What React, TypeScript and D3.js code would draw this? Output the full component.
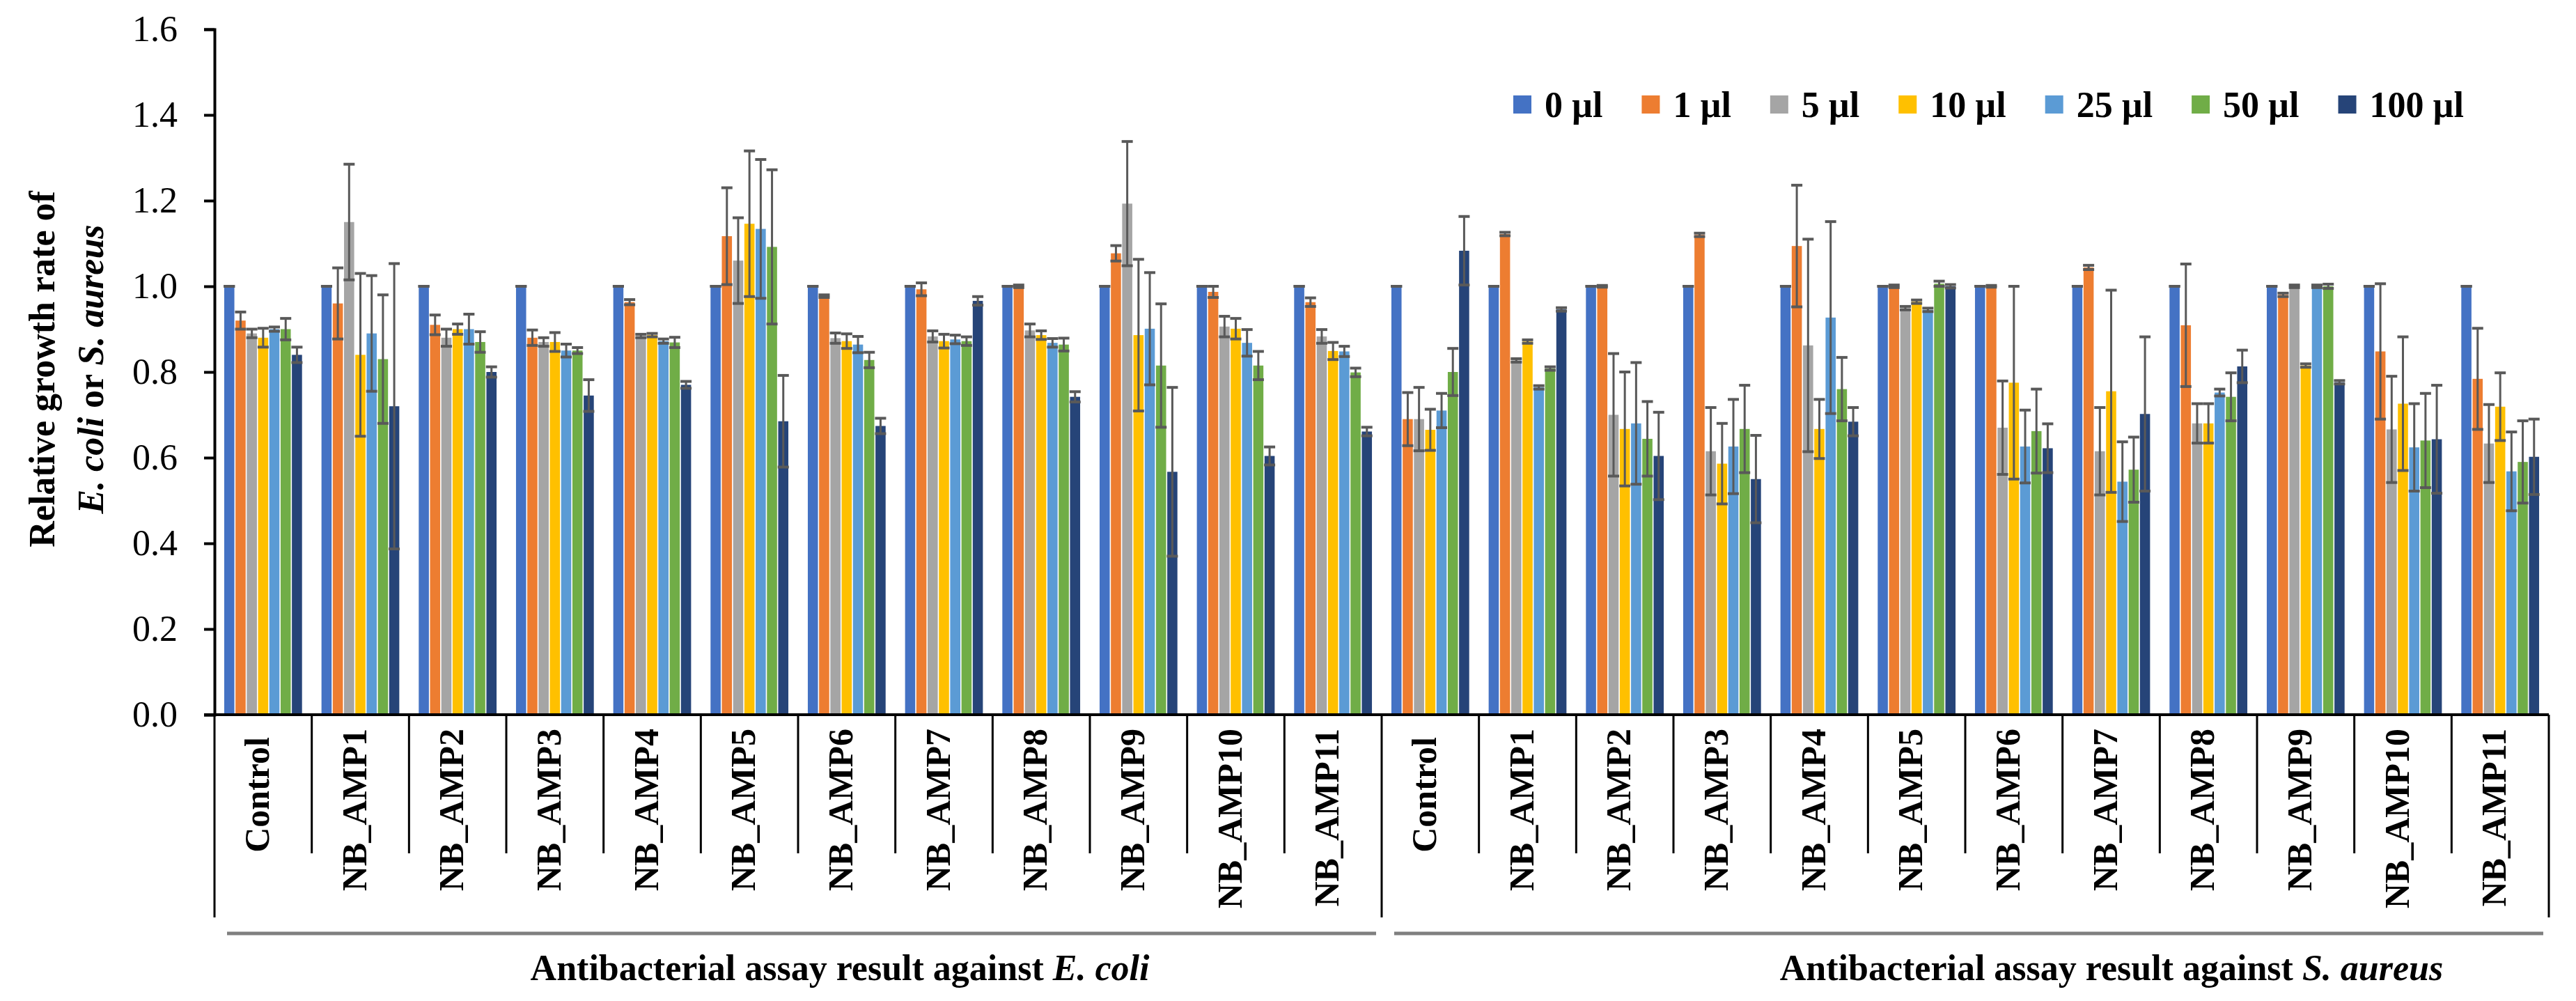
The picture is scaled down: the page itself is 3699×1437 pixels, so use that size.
import { useEffect, useRef } from "react"
import * as d3 from "d3"

const doses = ["0 µl", "1 µl", "5 µl", "10 µl", "25 µl", "50 µl", "100 µl"]
const doseColors = ["#4472C4", "#ED7D31", "#A5A5A5", "#FFC000", "#5B9BD5", "#70AD47", "#264478"]

const categories = [
  "Control", "NB_AMP1", "NB_AMP2", "NB_AMP3", "NB_AMP4", "NB_AMP5",
  "NB_AMP6", "NB_AMP7", "NB_AMP8", "NB_AMP9", "NB_AMP10", "NB_AMP11",
]
const organisms = ["E. coli", "S. aureus"]

// rows = categories, columns = doses
const ecoliMeans = [
  [1.0, 0.92, 0.89, 0.88, 0.9, 0.9, 0.84],
  [1.0, 0.96, 1.15, 0.84, 0.89, 0.83, 0.72],
  [1.0, 0.91, 0.88, 0.9, 0.9, 0.87, 0.8],
  [1.0, 0.88, 0.87, 0.87, 0.85, 0.85, 0.745],
  [1.0, 0.963, 0.884, 0.886, 0.872, 0.869, 0.77],
  [1.0, 1.117, 1.06, 1.146, 1.134, 1.092, 0.685],
  [1.0, 0.977, 0.879, 0.872, 0.864, 0.828, 0.674],
  [1.0, 0.993, 0.883, 0.872, 0.876, 0.872, 0.966],
  [1.0, 1.0, 0.897, 0.886, 0.868, 0.864, 0.742],
  [1.0, 1.077, 1.193, 0.886, 0.901, 0.815, 0.567],
  [1.0, 0.987, 0.906, 0.901, 0.868, 0.815, 0.604],
  [1.0, 0.963, 0.883, 0.849, 0.848, 0.799, 0.661],
]
const ecoliErr = [
  [0, 0.02, 0.01, 0.022, 0.005, 0.025, 0.018],
  [0, 0.083, 0.135, 0.19, 0.135, 0.15, 0.333],
  [0, 0.023, 0.02, 0.012, 0.035, 0.024, 0.012],
  [0, 0.018, 0.01, 0.022, 0.015, 0.007, 0.037],
  [0, 0.006, 0.004, 0.004, 0.005, 0.012, 0.008],
  [0, 0.113, 0.1, 0.17, 0.162, 0.18, 0.107],
  [0, 0.003, 0.012, 0.017, 0.019, 0.018, 0.018],
  [0, 0.015, 0.013, 0.016, 0.01, 0.01, 0.01],
  [0, 0.003, 0.015, 0.01, 0.01, 0.015, 0.012],
  [0, 0.018, 0.145, 0.177, 0.131, 0.144, 0.197],
  [0, 0.013, 0.024, 0.024, 0.031, 0.033, 0.021],
  [0, 0.01, 0.016, 0.02, 0.012, 0.01, 0.01],
]
const aureusMeans = [
  [1.0, 0.69, 0.69, 0.665, 0.71, 0.8, 1.083],
  [1.0, 1.122, 0.827, 0.871, 0.764, 0.808, 0.946],
  [1.0, 1.0, 0.7, 0.667, 0.68, 0.644, 0.604],
  [1.0, 1.12, 0.615, 0.586, 0.626, 0.667, 0.55],
  [1.0, 1.094, 0.862, 0.667, 0.927, 0.76, 0.684],
  [1.0, 1.0, 0.949, 0.964, 0.945, 1.006, 1.0],
  [1.0, 1.0, 0.67, 0.775, 0.626, 0.662, 0.622],
  [1.0, 1.044, 0.615, 0.755, 0.544, 0.572, 0.702],
  [1.0, 0.909, 0.68, 0.68, 0.752, 0.742, 0.813],
  [1.0, 0.98, 1.0, 0.815, 1.0, 1.0, 0.776],
  [1.0, 0.848, 0.666, 0.726, 0.624, 0.64, 0.643],
  [1.0, 0.784, 0.633, 0.719, 0.568, 0.59, 0.602],
]
const aureusErr = [
  [0, 0.062, 0.074, 0.048, 0.04, 0.055, 0.08],
  [0, 0.004, 0.004, 0.004, 0.004, 0.004, 0.004],
  [0, 0.002, 0.143, 0.133, 0.142, 0.087, 0.102],
  [0, 0.004, 0.102, 0.094, 0.11, 0.102, 0.102],
  [0, 0.142, 0.248, 0.069, 0.224, 0.074, 0.033],
  [0, 0.003, 0.004, 0.004, 0.004, 0.006, 0.004],
  [0, 0.002, 0.109, 0.225, 0.085, 0.098, 0.057],
  [0, 0.005, 0.102, 0.236, 0.093, 0.076, 0.18],
  [0, 0.143, 0.046, 0.046, 0.008, 0.056, 0.038],
  [0, 0.004, 0.003, 0.004, 0.003, 0.005, 0.004],
  [0, 0.158, 0.124, 0.156, 0.102, 0.11, 0.126],
  [0, 0.118, 0.091, 0.079, 0.092, 0.096, 0.088],
]

const yTicks = [0, 0.2, 0.4, 0.6, 0.8, 1.0, 1.2, 1.4, 1.6]

const FONT = "'Times New Roman', 'Liberation Serif', serif"

export default function App() {
  const svgRef = useRef<SVGSVGElement>(null)

  useEffect(() => {
    if (!svgRef.current) return
    const width = 3699
    const height = 1437
    const left = 308
    const right = 3660
    const top = 42
    const bottom = 1026

    const svg = d3.select(svgRef.current).attr("width", width).attr("height", height)
    svg.selectAll("*").remove()

    const rows = organisms.flatMap((org, gi) =>
      categories.map((cat, ci) => ({
        key: `${org}|${cat}`,
        org,
        cat,
        means: gi === 0 ? ecoliMeans[ci] : aureusMeans[ci],
        errs: gi === 0 ? ecoliErr[ci] : aureusErr[ci],
      }))
    )

    const x0 = d3.scaleBand<string>().domain(rows.map((r) => r.key)).range([left, right]).paddingInner(0.2).paddingOuter(0.1)
    const x1 = d3.scaleBand<string>().domain(doses).range([0, x0.bandwidth()]).paddingInner(0.1)
    const y = d3.scaleLinear().domain([0, 1.6]).range([bottom, top])

    // bars
    const groups = svg
      .append("g")
      .selectAll("g")
      .data(rows)
      .enter()
      .append("g")
      .attr("transform", (d) => `translate(${x0(d.key)},0)`)

    groups
      .selectAll("rect")
      .data((d) => d.means.map((v, i) => ({ v, i })))
      .enter()
      .append("rect")
      .attr("x", (d) => x1(doses[d.i])!)
      .attr("y", (d) => y(d.v))
      .attr("width", x1.bandwidth())
      .attr("height", (d) => bottom - y(d.v))
      .attr("fill", (d) => doseColors[d.i])

    // error bars
    const eb = groups
      .selectAll("g.err")
      .data((d) => d.means.map((v, i) => ({ v, e: d.errs[i], i })))
      .enter()
      .append("g")
      .attr("class", "err")
      .attr("stroke", "#595959")
    const cx = (d: { i: number }) => x1(doses[d.i])! + x1.bandwidth() / 2
    const capW = 8
    eb.append("line")
      .attr("x1", cx)
      .attr("x2", cx)
      .attr("y1", (d) => y(d.v + d.e))
      .attr("y2", (d) => y(d.v - d.e))
      .attr("stroke-width", 3)
    eb.append("line")
      .attr("x1", (d) => cx(d) - capW)
      .attr("x2", (d) => cx(d) + capW)
      .attr("y1", (d) => y(d.v + d.e))
      .attr("y2", (d) => y(d.v + d.e))
      .attr("stroke-width", 4)
    eb.append("line")
      .attr("x1", (d) => cx(d) - capW)
      .attr("x2", (d) => cx(d) + capW)
      .attr("y1", (d) => y(d.v - d.e))
      .attr("y2", (d) => y(d.v - d.e))
      .attr("stroke-width", 4)

    // y axis
    const yAxis = svg
      .append("g")
      .attr("transform", `translate(${left},0)`)
      .call(d3.axisLeft(y).tickValues(yTicks).tickFormat(d3.format(".1f")).tickSize(15).tickPadding(38))
    yAxis.select(".domain").attr("stroke", "#000").attr("stroke-width", 4)
    yAxis.selectAll(".tick line").attr("stroke", "#000").attr("stroke-width", 4)
    yAxis.selectAll(".tick text").attr("font-family", FONT).attr("font-size", 52).attr("fill", "#000")

    // x axis baseline
    svg.append("line").attr("x1", left - 15).attr("x2", right).attr("y1", bottom).attr("y2", bottom).attr("stroke", "#000").attr("stroke-width", 4)

    // category separators
    const step = x0.step()
    const bounds = d3.range(rows.length + 1).map((i) => left + i * step)
    svg
      .append("g")
      .selectAll("line")
      .data(bounds)
      .enter()
      .append("line")
      .attr("x1", (d) => d)
      .attr("x2", (d) => d)
      .attr("y1", bottom)
      .attr("y2", (_, i) => (i % categories.length === 0 ? 1317 : 1225))
      .attr("stroke", "#000")
      .attr("stroke-width", 3)

    // category labels
    svg
      .append("g")
      .selectAll("text")
      .data(rows)
      .enter()
      .append("text")
      .attr("transform", (d) => `translate(${x0(d.key)! + x0.bandwidth() / 2 - 9},${d.cat === "Control" ? 1058 : 1046}) rotate(-90)`)
      .attr("text-anchor", "end")
      .attr("dominant-baseline", "central")
      .attr("font-family", FONT)
      .attr("font-weight", "bold")
      .attr("font-size", 50)
      .text((d) => d.cat)

    // organism brackets and titles
    const titleShift = [60, 210]
    const orgG = svg.append("g").selectAll("g").data(organisms).enter().append("g")
    orgG
      .append("line")
      .attr("x1", (_, i) => bounds[i * categories.length] + 18)
      .attr("x2", (_, i) => bounds[(i + 1) * categories.length] - 8)
      .attr("y1", 1340)
      .attr("y2", 1340)
      .attr("stroke", "#7f7f7f")
      .attr("stroke-width", 5)
    const titles = orgG
      .append("text")
      .attr("x", (_, i) => (bounds[i * categories.length] + bounds[(i + 1) * categories.length]) / 2 + titleShift[i])
      .attr("y", 1407)
      .attr("text-anchor", "middle")
      .attr("font-family", FONT)
      .attr("font-weight", "bold")
      .attr("font-size", 52)
    titles.append("tspan").text("Antibacterial assay result against ")
    titles.append("tspan").attr("font-style", "italic").text((d) => d)

    // y axis title
    const yt = svg.append("g").attr("font-family", FONT).attr("font-weight", "bold").attr("font-size", 52)
    yt.append("text")
      .attr("transform", `translate(78,530) rotate(-90)`)
      .attr("text-anchor", "middle")
      .text("Relative growth  rate of")
    const yt2 = yt.append("text").attr("transform", `translate(148,530) rotate(-90)`).attr("text-anchor", "middle")
    yt2.append("tspan").attr("font-style", "italic").text("E. coli")
    yt2.append("tspan").text(" or ")
    yt2.append("tspan").attr("font-style", "italic").text("S. aureus")

    // legend
    const lg = svg.append("g").attr("font-family", FONT).attr("font-weight", "bold").attr("font-size", 52)
    let lx = 2173
    doses.forEach((d, i) => {
      lg.append("rect").attr("x", lx).attr("y", 137).attr("width", 26).attr("height", 26).attr("fill", doseColors[i])
      const t = lg.append("text").attr("x", lx + 45).attr("y", 168).text(d)
      const w = (t.node() as SVGTextElement).getComputedTextLength()
      lx += 45 + w + 56
    })
  }, [])

  return <svg ref={svgRef} style={{ position: "absolute", left: 0, top: 0, background: "#fff" }} />
}
